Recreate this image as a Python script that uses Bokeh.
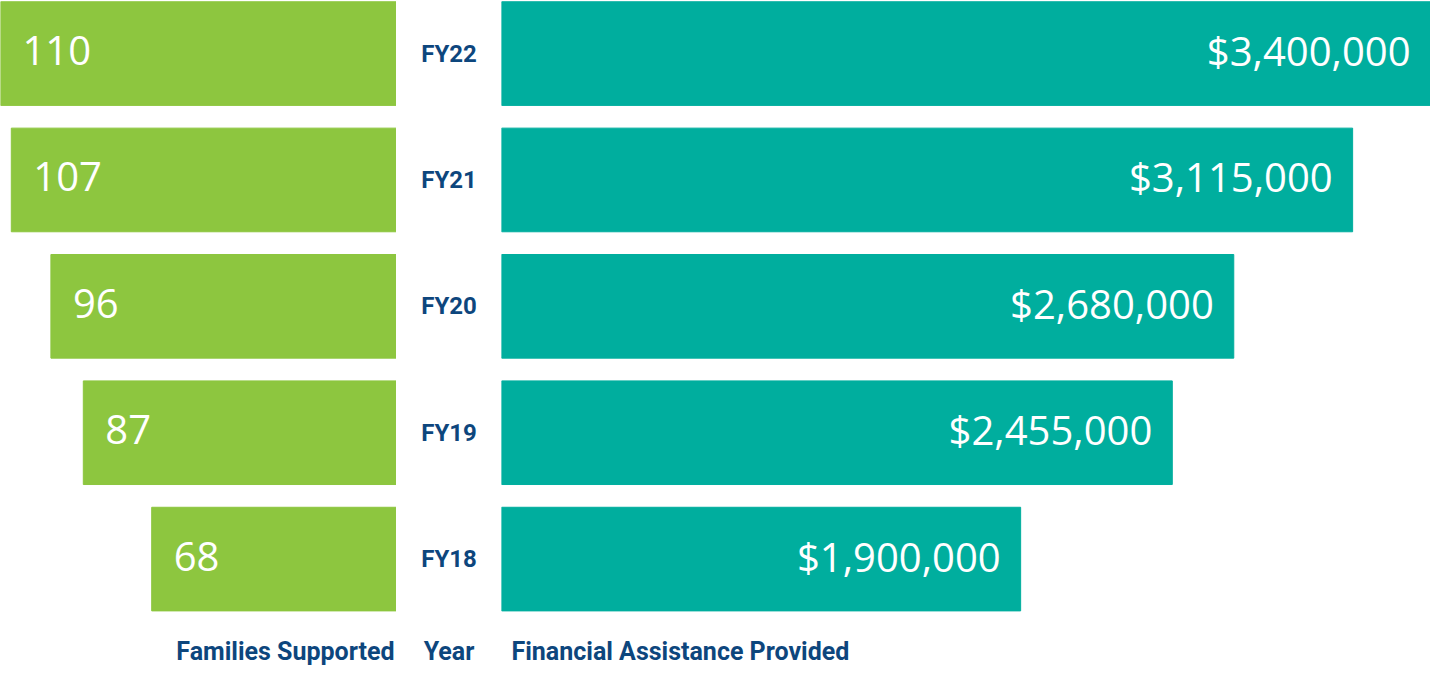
from bokeh.plotting import figure
from bokeh.models import ColumnDataSource, Range1d
from bokeh.layouts import row
from bokeh.core.properties import value
from bokeh.embed import file_html
from bokeh.resources import INLINE

# ---- data ----
years = ["FY22", "FY21", "FY20", "FY19", "FY18"]
families = [110, 107, 96, 87, 68]
assistance = [3400000, 3115000, 2680000, 2455000, 1900000]
families_title = "Families Supported"
year_title = "Year"
assistance_title = "Financial Assistance Provided"

GREEN = "#8DC63F"
TEAL = "#00AE9E"
BLUE = "#0D467D"
H = 666
BAR_H = 0.82
Y0, Y1 = -0.85, 4.42
LABEL_Y = -0.735
VAL_FONT = value("Open Sans")
HEAD_FONT = value("Roboto")

ypos = list(range(len(years)))[::-1]
src = ColumnDataSource(dict(
    year=years, y=ypos, fam=families, amt=assistance,
    fam_lbl=[str(v) for v in families],
    amt_lbl=["${:,}".format(v) for v in assistance],
    zero=[0] * len(years), mid=[0.5] * len(years),
))


def base(width, xr):
    p = figure(width=width, height=H, x_range=xr, y_range=Range1d(Y0, Y1),
               output_backend="svg", toolbar_location=None, min_border=0,
               background_fill_color="white", border_fill_color="white")
    p.axis.visible = False
    p.grid.visible = False
    p.outline_line_color = None
    return p


# left: families
pl = base(396, Range1d(max(families), 0))
pl.hbar(y="y", left="zero", right="fam", height=BAR_H, color=GREEN, source=src)
pl.text(x="fam", y="y", text="fam_lbl", source=src, x_offset=22, y_offset=-3,
        text_align="left", text_baseline="middle", text_color="white",
        text_font=VAL_FONT, text_font_size="40px")
pl.text(x=[0], y=[LABEL_Y], text=[families_title], x_offset=-2,
        text_align="right", text_baseline="middle", text_color=BLUE,
        text_font=HEAD_FONT, text_font_style="bold", text_font_size="25px")

# middle: years
pm = base(105, Range1d(0, 1))
pm.text(x="mid", y="y", text="year", source=src,
        text_align="center", text_baseline="middle", text_color=BLUE,
        text_font=HEAD_FONT, text_font_style="bold", text_font_size="24px")
pm.text(x=[0.5], y=[LABEL_Y], text=[year_title],
        text_align="center", text_baseline="middle", text_color=BLUE,
        text_font=HEAD_FONT, text_font_style="bold", text_font_size="25px")

# right: assistance
pr = base(929, Range1d(0, max(assistance)))
pr.hbar(y="y", left="zero", right="amt", height=BAR_H, color=TEAL, source=src)
pr.text(x="amt", y="y", text="amt_lbl", source=src, x_offset=-20, y_offset=-3,
        text_align="right", text_baseline="middle", text_color="white",
        text_font=VAL_FONT, text_font_size="40px")
pr.text(x=[0], y=[LABEL_Y], text=[assistance_title], x_offset=10,
        text_align="left", text_baseline="middle", text_color=BLUE,
        text_font=HEAD_FONT, text_font_style="bold", text_font_size="25px")

layout = row(pl, pm, pr, spacing=0)
open("out.html", "w").write(file_html(layout, INLINE))
